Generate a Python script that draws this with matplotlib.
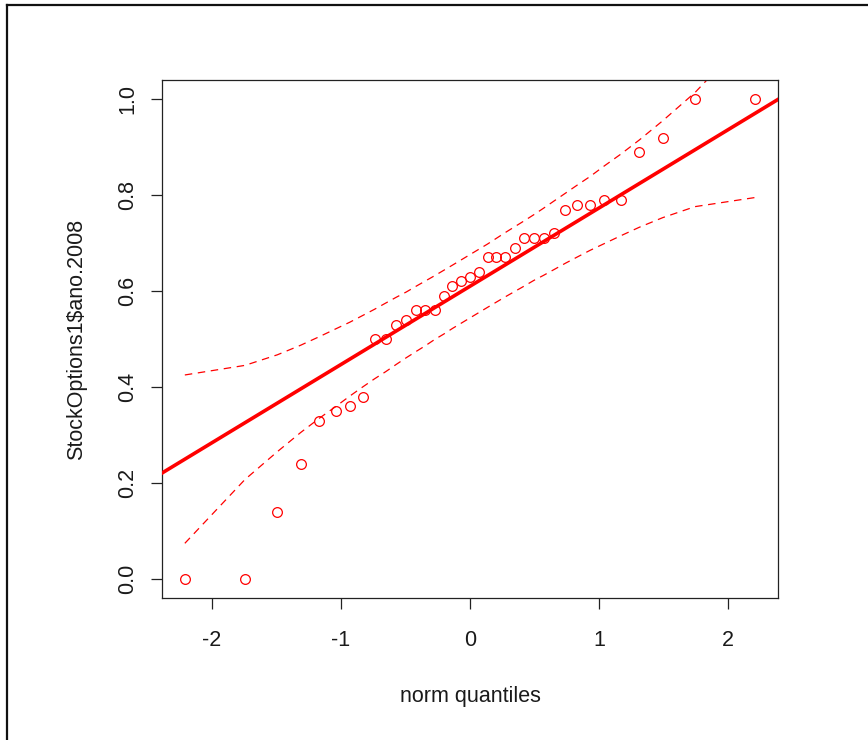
import matplotlib
matplotlib.use("Agg")
import matplotlib.pyplot as plt
from matplotlib.lines import Line2D

plt.rcParams['font.family'] = ['Liberation Sans', 'DejaVu Sans']

# theoretical normal quantiles (x positions of the points)
norm_quantiles = [-2.211, -1.745, -1.494, -1.313, -1.167, -1.042, -0.932, -0.832,
                  -0.740, -0.653, -0.572, -0.494, -0.418, -0.346, -0.274, -0.205,
                  -0.136, -0.068, 0.000, 0.068, 0.136, 0.205, 0.274, 0.346,
                  0.418, 0.494, 0.572, 0.653, 0.740, 0.832, 0.932, 1.042,
                  1.167, 1.313, 1.494, 1.745, 2.211]

# sorted sample values StockOptions1$ano.2008
sample_values = [0.00, 0.00, 0.14, 0.24, 0.33, 0.35, 0.36, 0.38,
                 0.50, 0.50, 0.53, 0.54, 0.56, 0.56, 0.56, 0.59,
                 0.61, 0.62, 0.63, 0.64, 0.67, 0.67, 0.67, 0.69,
                 0.71, 0.71, 0.71, 0.72, 0.77, 0.78, 0.78, 0.79,
                 0.79, 0.89, 0.92, 1.00, 1.00]

# 95% confidence envelope
envelope_upper = [0.425, 0.445, 0.467, 0.487, 0.505, 0.521, 0.535, 0.549,
                  0.562, 0.575, 0.587, 0.598, 0.610, 0.621, 0.632, 0.643,
                  0.654, 0.665, 0.676, 0.687, 0.698, 0.710, 0.722, 0.734,
                  0.746, 0.759, 0.773, 0.788, 0.804, 0.821, 0.839, 0.861,
                  0.885, 0.915, 0.955, 1.014, 1.146]
envelope_lower = [0.074, 0.207, 0.265, 0.305, 0.335, 0.359, 0.381, 0.400,
                  0.417, 0.432, 0.447, 0.461, 0.474, 0.486, 0.499, 0.510,
                  0.522, 0.533, 0.544, 0.555, 0.566, 0.577, 0.588, 0.599,
                  0.610, 0.622, 0.633, 0.645, 0.658, 0.671, 0.685, 0.699,
                  0.715, 0.733, 0.753, 0.776, 0.795]

# reference line through the quartiles
line_intercept = 0.610
line_slope = 0.1631

x_ticks = [-2, -1, 0, 1, 2]
y_ticks = [0.0, 0.2, 0.4, 0.6, 0.8, 1.0]
x_label = "norm quantiles"
y_label = "StockOptions1$ano.2008"

W, H = 868, 740
fig = plt.figure(figsize=(W / 100, H / 100), dpi=100)
fig.patch.set_facecolor('white')

ax = fig.add_axes([162 / W, 1 - 598 / H, (778 - 162) / W, (598 - 80) / H])
ax.set_xlim(-2.388, 2.388)
ax.set_ylim(-0.04, 1.04)

red = '#FF0000'
ax.axline((0, line_intercept), slope=line_slope, color=red, lw=2.6, zorder=3)
ax.plot(norm_quantiles, envelope_upper, color=red, lw=0.9, dashes=(6, 4.5), zorder=2)
ax.plot(norm_quantiles, envelope_lower, color=red, lw=0.9, dashes=(6, 4.5), zorder=2)
ax.plot(norm_quantiles, sample_values, linestyle='none', marker='o', ms=7,
        mfc='none', mec=red, mew=0.9, zorder=4)

ax.set_xticks(x_ticks)
ax.set_xticklabels([str(t) for t in x_ticks])
ax.set_yticks(y_ticks)
ax.set_yticklabels([f"{t:.1f}" for t in y_ticks], rotation=90, va='center')

txt = '#1a1a1a'
for s in ax.spines.values():
    s.set_color('#222222')
    s.set_linewidth(0.9)
ax.tick_params(direction='out', length=8, width=0.9, color='#222222',
               labelsize=15.5, labelcolor=txt)
ax.tick_params(axis='x', pad=15)
ax.tick_params(axis='y', pad=9)

ax.set_xlabel(x_label, fontsize=15.5, color=txt, labelpad=25)
ax.set_ylabel(y_label, fontsize=15.5, color=txt, labelpad=22)

# outer frame of the screenshot
fig.add_artist(Line2D([7 / W, 7 / W], [0, 1 - 5 / H], color='#111111', lw=1.6,
                      transform=fig.transFigure))
fig.add_artist(Line2D([7 / W, 1], [1 - 5 / H, 1 - 5 / H], color='#111111', lw=1.6,
                      transform=fig.transFigure))

fig.savefig('out.png', dpi=100, facecolor='white')
